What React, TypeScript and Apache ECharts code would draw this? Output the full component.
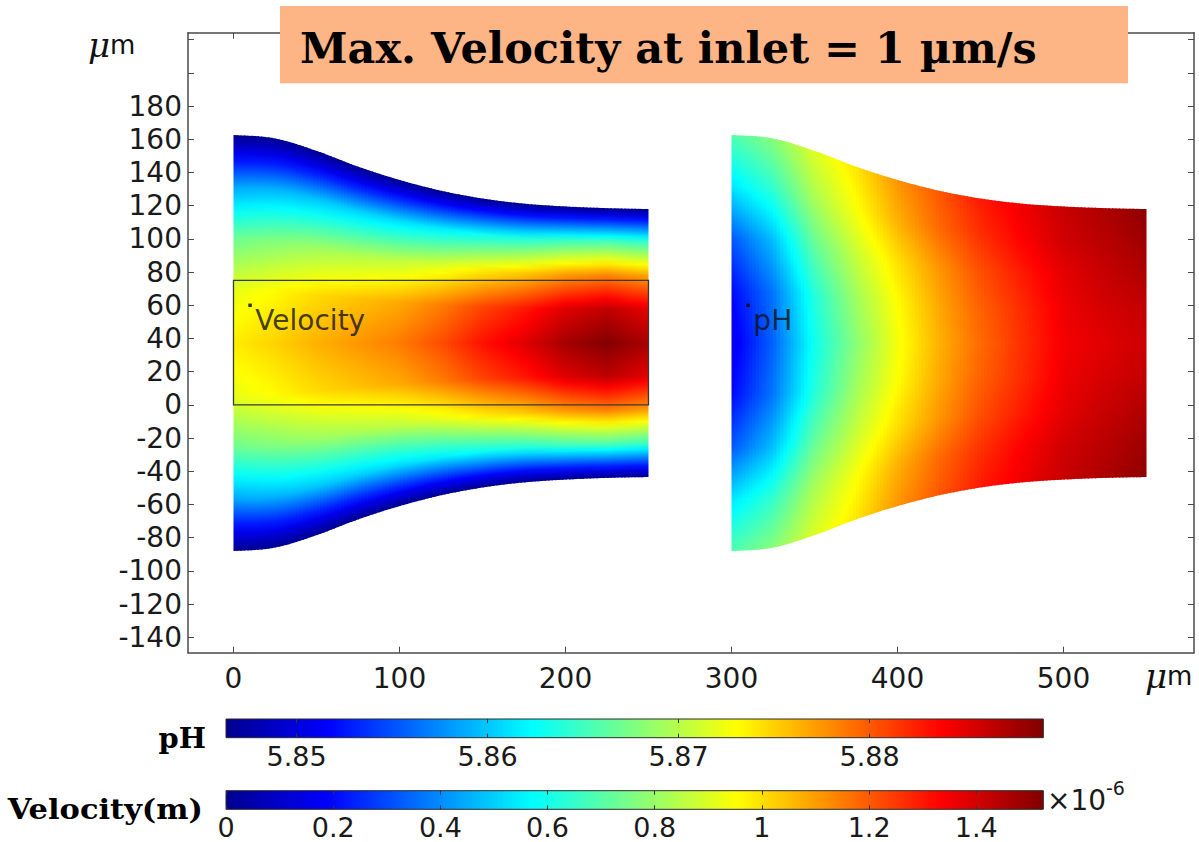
import React, { useEffect, useRef } from "react";
import * as echarts from "echarts";

// ---------- geometry (µm) ----------
const stationX = [0, 25, 50, 75, 100, 125, 150, 175, 200, 225, 250];
const phStationX = [300, 325, 350, 375, 400, 425, 450, 475, 500, 525, 550];
const wallTop = [162.5, 160.5, 153, 143.5, 135.5, 129, 124.3, 121.2, 119.5, 118.5, 118];
const wallBottom = [-88, -86, -78.5, -69, -61, -54.5, -49.8, -46.7, -45, -44, -43.5];

// ---------- velocity field (×1e-6 m/s) ----------
const velCenter = [0.98, 1.02, 1.07, 1.11, 1.15, 1.22, 1.31, 1.38, 1.47, 1.52, 1.46];
const velLevels = [0, 0.25, 0.5, 0.75, 0.9, 1]; // |y - centre| / half width
const velProfile = [1, 0.94, 0.75, 0.45, 0.18, 0]; // fraction of centreline value

// ---------- pH field ----------
const phLevels = [0, 0.25, 0.5, 0.75, 1];
const phTable = [
  [5.8506, 5.8519, 5.8553, 5.8613, 5.8656],
  [5.8558, 5.8566, 5.8596, 5.8643, 5.868],
  [5.863, 5.8638, 5.8664, 5.8694, 5.8716],
  [5.8681, 5.869, 5.8707, 5.8728, 5.8741],
  [5.8726, 5.8731, 5.8743, 5.8763, 5.8775],
  [5.8763, 5.8767, 5.8775, 5.8793, 5.8801],
  [5.8793, 5.8797, 5.8805, 5.8818, 5.8827],
  [5.8818, 5.882, 5.8827, 5.8838, 5.8844],
  [5.8842, 5.8844, 5.8848, 5.8857, 5.8861],
  [5.885, 5.8855, 5.8861, 5.8867, 5.8872],
  [5.8859, 5.8863, 5.887, 5.8878, 5.8885],
];

// ---------- annotations ----------
const rectBox = [0, 0, 250, 75]; // x0, y0, x1, y1
const pointXY = [
  [10, 60],
  [310, 60],
];
const pointNames = ["Velocity", "pH"];

// ---------- axes ----------
const xRange = [-27.4, 578.6];
const yRange = [-149.3, 224.2];
const xTicks = [0, 100, 200, 300, 400, 500];
const yTicks = [-140, -120, -100, -80, -60, -40, -20, 0, 20, 40, 60, 80, 100, 120, 140, 160, 180, 200, 220];
const yLabels = [-140, -120, -100, -80, -60, -40, -20, 0, 20, 40, 60, 80, 100, 120, 140, 160, 180];

// ---------- colour bars ----------
const phRange = [5.8463, 5.8891];
const phTicks = [5.85, 5.86, 5.87, 5.88];
const velRange = [0, 1.525];
const velTicks = [0, 0.2, 0.4, 0.6, 0.8, 1, 1.2, 1.4];

const jetPos = [0, 0.125, 0.375, 0.625, 0.875, 1];
const jetColors = ["#00008f", "#0000ff", "#00ffff", "#ffff00", "#ff0000", "#800000"];

function hexRgb(h: string) {
  return [parseInt(h.slice(1, 3), 16), parseInt(h.slice(3, 5), 16), parseInt(h.slice(5, 7), 16)];
}
const jetRgb = jetColors.map(hexRgb);

function jet(t: number) {
  t = Math.max(0, Math.min(1, t));
  let k = 0;
  while (k < jetPos.length - 2 && t > jetPos[k + 1]) k++;
  const f = (t - jetPos[k]) / (jetPos[k + 1] - jetPos[k]);
  const a = jetRgb[k], b = jetRgb[k + 1];
  const c = a.map((v, j) => Math.round(v + (b[j] - v) * f));
  return `rgb(${c[0]},${c[1]},${c[2]})`;
}

function segOf(xs: number[], x: number): [number, number] {
  let i = 0;
  while (i < xs.length - 2 && x > xs[i + 1]) i++;
  let f = (x - xs[i]) / (xs[i + 1] - xs[i]);
  f = Math.max(0, Math.min(1, f));
  return [i, f];
}

function wallAt(xs: number[], arr: number[], x: number) {
  const [i, t] = segOf(xs, x);
  const n = arr.length;
  const p0 = arr[Math.max(0, i - 1)], p1 = arr[i], p2 = arr[i + 1], p3 = arr[Math.min(n - 1, i + 2)];
  return 0.5 * (2 * p1 + (-p0 + p2) * t + (2 * p0 - 5 * p1 + 4 * p2 - p3) * t * t + (-p0 + 3 * p1 - 3 * p2 + p3) * t * t * t);
}

function pwl(levels: number[], vals: number[], e: number) {
  let k = 0;
  while (k < levels.length - 2 && e > levels[k + 1]) k++;
  const f = Math.max(0, Math.min(1, (e - levels[k]) / (levels[k + 1] - levels[k])));
  return vals[k] + (vals[k + 1] - vals[k]) * f;
}

const SUB = 12;
const NSTOP = 48;

function fieldSeries(xs: number[], levels: number[], columnAt: (x: number) => number[], range: number[]) {
  const data = xs.slice(0, -1).map((x, i) => [x, xs[i + 1]]);
  return {
    type: "custom",
    xAxisIndex: 0,
    yAxisIndex: 0,
    z: 2,
    silent: true,
    data,
    renderItem: (params: any, api: any) => {
      const i = params.dataIndex;
      const x0 = api.value(0), x1 = api.value(1);
      const lastSeg = i === xs.length - 2;
      const children: any[] = [];
      for (let s = 0; s < SUB; s++) {
        const xa = x0 + ((x1 - x0) * s) / SUB;
        const xbBase = x0 + ((x1 - x0) * (s + 1)) / SUB;
        const xb = lastSeg && s === SUB - 1 ? xbBase : xbBase + 0.8;
        const xm = (xa + xbBase) / 2;
        const pts = [
          api.coord([xa, wallAt(xs, wallTop, xa)]),
          api.coord([xb, wallAt(xs, wallTop, xb)]),
          api.coord([xb, wallAt(xs, wallBottom, xb)]),
          api.coord([xa, wallAt(xs, wallBottom, xa)]),
        ];
        const pt = api.coord([xm, wallAt(xs, wallTop, xm)]);
        const pb = api.coord([xm, wallAt(xs, wallBottom, xm)]);
        const vals = columnAt(xm);
        const stops: any[] = [];
        for (let k = 0; k <= NSTOP; k++) {
          const o = k / NSTOP;
          const e = Math.abs(o - 0.5) * 2;
          const v = pwl(levels, vals, e);
          stops.push({ offset: o, color: jet((v - range[0]) / (range[1] - range[0])) });
        }
        children.push({
          type: "polygon",
          shape: { points: pts },
          style: {
            fill: { type: "linear", x: pt[0], y: pt[1], x2: pb[0], y2: pb[1], global: true, colorStops: stops },
            stroke: null,
          },
        });
      }
      return { type: "group", children };
    },
  };
}

const velColumn = (x: number) => {
  const [i, f] = segOf(stationX, x);
  const vc = velCenter[i] + (velCenter[i + 1] - velCenter[i]) * f;
  return velProfile.map((p) => vc * p);
};
const phColumn = (x: number) => {
  const [i, f] = segOf(phStationX, x);
  return phTable[i].map((v, k) => v + (phTable[i + 1][k] - v) * f);
};

const AXIS_COLOR = "#4a4a4a";
const FONT = "DejaVu Sans";

function mainAxisX(position: string, labels: boolean) {
  return {
    type: "value",
    gridIndex: 0,
    position,
    min: xRange[0],
    max: xRange[1],
    axisLine: { show: true, onZero: false, lineStyle: { color: AXIS_COLOR, width: 1.5 } },
    axisTick: { show: true, inside: true, length: 6, customValues: xTicks, lineStyle: { color: AXIS_COLOR, width: 1 } },
    axisLabel: labels
      ? { show: true, customValues: xTicks, fontFamily: FONT, fontSize: 28, color: "#1a1a1a", margin: 12 }
      : { show: false },
    splitLine: { show: false },
  };
}
function mainAxisY(position: string, labels: boolean) {
  return {
    type: "value",
    gridIndex: 0,
    position,
    min: yRange[0],
    max: yRange[1],
    axisLine: { show: true, onZero: false, lineStyle: { color: AXIS_COLOR, width: 1.5 } },
    axisTick: { show: true, inside: true, length: 6, customValues: yTicks, lineStyle: { color: AXIS_COLOR, width: 1 } },
    axisLabel: labels
      ? { show: true, customValues: yLabels, fontFamily: FONT, fontSize: 28, color: "#1a1a1a", margin: 6 }
      : { show: false },
    splitLine: { show: false },
  };
}
function barAxisX(grid: number, range: number[], ticks: number[], position: string, labels: boolean, fmt: (v: number) => string) {
  return {
    type: "value",
    gridIndex: grid,
    position,
    min: range[0],
    max: range[1],
    z: 10,
    axisLine: { show: false },
    axisTick: { show: true, inside: true, length: 4, customValues: ticks, lineStyle: { color: "#333", width: 1 } },
    axisLabel: labels
      ? { show: true, customValues: ticks, fontFamily: FONT, fontSize: 27, color: "#1a1a1a", margin: 5, formatter: fmt }
      : { show: false },
    splitLine: { show: false },
  };
}

function barSeries(xIdx: number, yIdx: number, range: number[]) {
  return {
    type: "custom",
    xAxisIndex: xIdx,
    yAxisIndex: yIdx,
    z: 2,
    silent: true,
    data: [[range[0], range[1]]],
    renderItem: (params: any, api: any) => {
      const a = api.coord([api.value(0), 1]);
      const b = api.coord([api.value(1), 0]);
      return {
        type: "rect",
        shape: { x: a[0], y: a[1], width: b[0] - a[0], height: b[1] - a[1] },
        style: {
          fill: {
            type: "linear",
            x: 0,
            y: 0,
            x2: 1,
            y2: 0,
            colorStops: jetPos.map((p, k) => ({ offset: p, color: jetColors[k] })),
          },
          stroke: "#2a2a2a",
          lineWidth: 1,
        },
      };
    },
  };
}

export default function App() {
  const ref = useRef<HTMLDivElement>(null);
  useEffect(() => {
    document.body.style.margin = "0";
    const chart = echarts.init(ref.current!, undefined, { renderer: "svg" });
    const option: any = {
      animation: false,
      backgroundColor: "#ffffff",
      grid: [
        { left: 188, top: 32.7, width: 1006, height: 620, outerBoundsMode: "none" },
        { left: 226, top: 719, width: 817.3, height: 18.7, outerBoundsMode: "none" },
        { left: 226, top: 790.7, width: 817.3, height: 18.6, outerBoundsMode: "none" },
      ],
      xAxis: [
        mainAxisX("bottom", true),
        mainAxisX("top", false),
        barAxisX(1, phRange, phTicks, "bottom", true, (v) => v.toFixed(2)),
        barAxisX(1, phRange, phTicks, "top", false, (v) => String(v)),
        barAxisX(2, velRange, velTicks, "bottom", true, (v) => String(Math.round(v * 10) / 10)),
        barAxisX(2, velRange, velTicks, "top", false, (v) => String(v)),
      ],
      yAxis: [
        mainAxisY("left", true),
        mainAxisY("right", false),
        { type: "value", gridIndex: 1, min: 0, max: 1, show: false },
        { type: "value", gridIndex: 2, min: 0, max: 1, show: false },
      ],
      series: [
        fieldSeries(stationX, velLevels, velColumn, velRange),
        fieldSeries(phStationX, phLevels, phColumn, phRange),
        {
          type: "custom",
          xAxisIndex: 0,
          yAxisIndex: 0,
          z: 3,
          silent: true,
          data: [rectBox],
          renderItem: (params: any, api: any) => {
            const a = api.coord([api.value(0), api.value(3)]);
            const b = api.coord([api.value(2), api.value(1)]);
            return {
              type: "rect",
              shape: { x: a[0], y: a[1], width: b[0] - a[0], height: b[1] - a[1] },
              style: { fill: null, stroke: "#3a3a3a", lineWidth: 1.3 },
            };
          },
        },
        {
          type: "scatter",
          xAxisIndex: 0,
          yAxisIndex: 0,
          z: 4,
          silent: true,
          symbol: "rect",
          symbolSize: 3.5,
          itemStyle: { color: "#000" },
          data: pointXY.map((p, i) => ({ value: p, name: pointNames[i] })),
          label: {
            show: true,
            formatter: (p: any) => p.name,
            position: [7, 3],
            align: "left",
            verticalAlign: "top",
            fontFamily: FONT,
            fontSize: 28,
            color: "#111",
          },
        },
        barSeries(2, 2, phRange),
        barSeries(4, 3, velRange),
      ],
      graphic: [
        { type: "rect", z: 100, shape: { x: 280, y: 6, width: 848, height: 77.3 }, style: { fill: "#fdb586" } },
        {
          type: "text",
          z: 101,
          x: 300,
          y: 48,
          style: {
            text: "Max. Velocity at inlet = 1 µm/s",
            font: 'bold 43px "DejaVu Serif"',
            fill: "#000",
            verticalAlign: "middle",
          },
        },
        {
          type: "text",
          z: 101,
          x: 88,
          y: 45,
          style: {
            text: "{mu|μ}{m|m}",
            verticalAlign: "middle",
            rich: {
              mu: { fontFamily: "DejaVu Serif", fontStyle: "italic", fontSize: 34, fill: "#111" },
              m: { fontFamily: FONT, fontSize: 26, fill: "#111" },
            },
          },
        },
        {
          type: "text",
          z: 101,
          x: 1145,
          y: 676,
          style: {
            text: "{mu|μ}{m|m}",
            verticalAlign: "middle",
            rich: {
              mu: { fontFamily: "DejaVu Serif", fontStyle: "italic", fontSize: 34, fill: "#111" },
              m: { fontFamily: FONT, fontSize: 26, fill: "#111" },
            },
          },
        },
        {
          type: "text",
          z: 101,
          x: 206,
          y: 739,
          scaleX: 1.07,
          style: { text: "pH", font: 'bold 27px "DejaVu Serif"', fill: "#000", align: "right", verticalAlign: "middle" },
        },
        {
          type: "text",
          z: 101,
          x: 203,
          y: 810,
          scaleX: 1.13,
          style: { text: "Velocity(m)", font: 'bold 27px "DejaVu Serif"', fill: "#000", align: "right", verticalAlign: "middle" },
        },
        {
          type: "text",
          z: 101,
          x: 1047,
          y: 800,
          style: { text: "×10", font: '28px "DejaVu Sans"', fill: "#1a1a1a", verticalAlign: "middle" },
        },
        {
          type: "text",
          z: 101,
          x: 1106,
          y: 788,
          style: { text: "-6", font: '19px "DejaVu Sans"', fill: "#1a1a1a", verticalAlign: "middle" },
        },
      ],
    };
    chart.setOption(option);
    return () => chart.dispose();
  }, []);
  return <div ref={ref} style={{ position: "fixed", left: 0, top: 0, width: 1199, height: 842, background: "#fff" }} />;
}
